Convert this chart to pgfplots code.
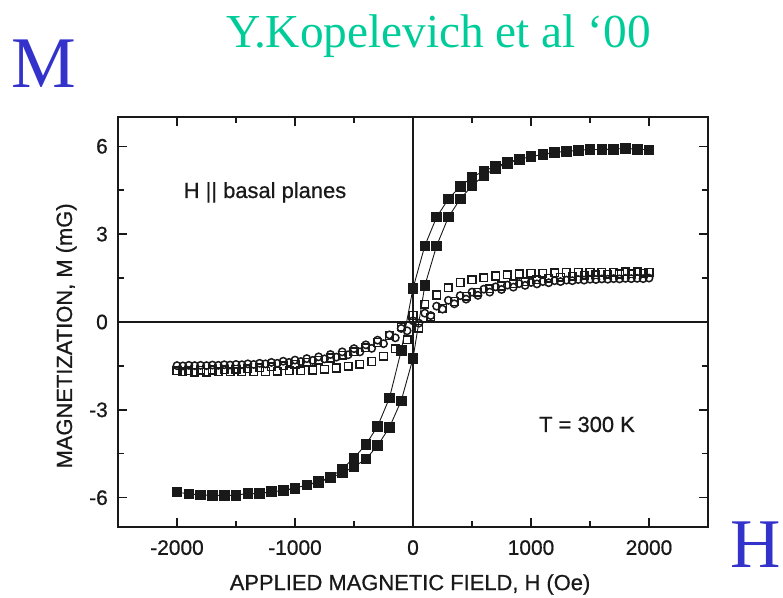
\documentclass[border=0pt]{standalone}
\usepackage{fontspec}
\setmainfont{Liberation Serif}
\newfontfamily\arial[UprightFeatures={FakeBold=0.7}]{Liberation Sans}
\usepackage{pgfplots}
\pgfplotsset{compat=1.18}
\definecolor{bigblue}{RGB}{51,51,204}
\definecolor{teal2}{RGB}{0,204,153}
\definecolor{ink}{RGB}{25,25,25}
\begin{document}
\begin{tikzpicture}[x=1bp,y=1bp]
\path[use as bounding box] (0,0) rectangle (783,598);
\begin{axis}[
  at={(118bp,71bp)}, anchor=south west,
  scale only axis, width=590bp, height=410bp,
  xmin=-2500, xmax=2500, ymin=-7, ymax=7,
  xtick={-2000,-1000,0,1000,2000},
  minor xtick={-1500,-500,500,1500},
  ytick={-6,-3,0,3,6},
  minor ytick={-4.5,-1.5,1.5,4.5},
  tick align=inside,
  major tick length=9bp, minor tick length=6bp,
  every tick/.style={ink, line width=1.4bp},
  axis line style={ink, line width=1.8bp},
  /pgf/number format/assume math mode=true,
  /pgf/number format/1000 sep={},
  xticklabel style={font=\arial\fontsize{21}{21}\selectfont, text=ink, inner sep=0pt, yshift=-13bp},
  yticklabel style={font=\arial\fontsize{21}{21}\selectfont, text=ink, inner sep=0pt, xshift=-10bp},
  xlabel={APPLIED MAGNETIC FIELD, H (Oe)},
  ylabel={MAGNETIZATION, M (mG)},
  every axis x label/.style={at={(axis description cs:0.495,-0.154)}, anchor=base, font=\arial\fontsize{22}{22}\selectfont, text=ink},
  every axis y label/.style={at={(axis description cs:-0.078,0.466)}, rotate=90, anchor=base, font=\arial\fontsize{22}{22}\selectfont, text=ink},
  clip=false,
]
\draw[ink, line width=1.4bp] (axis cs:0,-7) -- (axis cs:0,7);
\draw[ink, line width=1.4bp] (axis cs:-2500,0) -- (axis cs:2500,0);

% open squares (both branches)
\addplot[only marks, mark=square, mark size=3.8bp, mark options={ink, line width=1.5bp}] coordinates {
(2000,1.70) (1900,1.71) (1800,1.71) (1700,1.70) (1600,1.70) (1500,1.70) (1400,1.69) (1300,1.69) (1200,1.68) (1100,1.67) (1000,1.66) (900,1.64) (800,1.61) (700,1.57) (600,1.51) (500,1.44) (400,1.35) (300,1.17) (200,0.92) (100,0.60) (0,0.22) (-100,-0.16) (-200,-0.46) (-300,-0.70) (-400,-0.88) (-500,-1.02) (-600,-1.13) (-700,-1.23) (-800,-1.31) (-900,-1.38) (-1000,-1.44) (-1100,-1.49) (-1200,-1.53) (-1300,-1.56) (-1400,-1.59) (-1500,-1.61) (-1600,-1.63) (-1700,-1.64) (-1800,-1.65) (-1900,-1.66) (-2000,-1.66)
(-1950,-1.70) (-1850,-1.71) (-1750,-1.71) (-1650,-1.70) (-1550,-1.70) (-1450,-1.70) (-1350,-1.69) (-1250,-1.69) (-1150,-1.68) (-1050,-1.67) (-950,-1.66) (-850,-1.64) (-750,-1.61) (-650,-1.57) (-550,-1.51) (-450,-1.44) (-350,-1.35) (-250,-1.17) (-150,-0.92) (-50,-0.60) (50,-0.22) (150,0.16) (250,0.46) (350,0.70) (450,0.88) (550,1.02) (650,1.13) (750,1.23) (850,1.31) (950,1.38) (1050,1.44) (1150,1.49) (1250,1.53) (1350,1.56) (1450,1.59) (1550,1.61) (1650,1.63) (1750,1.64) (1850,1.65) (1950,1.66)
};

% open circles (both branches)
\addplot[only marks, mark=o, mark size=3.7bp, mark options={ink, line width=1.5bp}] coordinates {
(2000,1.50) (1900,1.49) (1800,1.49) (1700,1.48) (1600,1.47) (1500,1.46) (1400,1.45) (1300,1.43) (1200,1.41) (1100,1.38) (1000,1.35) (900,1.31) (800,1.26) (700,1.20) (600,1.12) (500,1.02) (400,0.90) (300,0.74) (200,0.54) (100,0.30) (0,0.04) (-100,-0.22) (-200,-0.44) (-300,-0.62) (-400,-0.78) (-500,-0.91) (-600,-1.02) (-700,-1.11) (-800,-1.19) (-900,-1.25) (-1000,-1.30) (-1100,-1.34) (-1200,-1.38) (-1300,-1.41) (-1400,-1.43) (-1500,-1.45) (-1600,-1.46) (-1700,-1.47) (-1800,-1.48) (-1900,-1.48) (-2000,-1.49)
(-1950,-1.50) (-1850,-1.49) (-1750,-1.49) (-1650,-1.48) (-1550,-1.47) (-1450,-1.46) (-1350,-1.45) (-1250,-1.43) (-1150,-1.41) (-1050,-1.38) (-950,-1.35) (-850,-1.31) (-750,-1.26) (-650,-1.20) (-550,-1.12) (-450,-1.02) (-350,-0.90) (-250,-0.74) (-150,-0.54) (-50,-0.30) (50,-0.04) (150,0.22) (250,0.44) (350,0.62) (450,0.78) (550,0.91) (650,1.02) (750,1.11) (850,1.19) (950,1.25) (1050,1.30) (1150,1.34) (1250,1.38) (1350,1.41) (1450,1.43) (1550,1.45) (1650,1.46) (1750,1.47) (1850,1.48) (1950,1.48)
};

% filled squares: hysteresis loop
\addplot[ink, line width=0.9bp, mark=square*, mark size=4.8bp, mark options={fill=ink, draw=ink}] coordinates {
(2000,5.88) (1900,5.90) (1800,5.93) (1700,5.90) (1600,5.88) (1500,5.90) (1400,5.85) (1300,5.83) (1200,5.79) (1100,5.73) (1000,5.64) (900,5.56) (800,5.45) (700,5.31) (600,5.16) (500,4.94) (400,4.63) (300,4.20) (200,3.58) (100,2.60) (0,1.15) (-100,-0.98) (-200,-2.60) (-300,-3.56) (-400,-4.19) (-500,-4.64) (-600,-5.02) (-700,-5.30) (-800,-5.45) (-900,-5.56) (-1000,-5.68) (-1100,-5.76) (-1200,-5.79) (-1300,-5.87) (-1400,-5.85) (-1500,-5.92) (-1600,-5.92) (-1700,-5.92) (-1800,-5.90) (-1900,-5.87) (-2000,-5.81)
(-1900,-5.87) (-1800,-5.90) (-1700,-5.92) (-1600,-5.92) (-1500,-5.91) (-1400,-5.86) (-1300,-5.85) (-1200,-5.80) (-1100,-5.75) (-1000,-5.67) (-900,-5.57) (-800,-5.47) (-700,-5.33) (-600,-5.15) (-500,-4.95) (-400,-4.68) (-300,-4.22) (-200,-3.60) (-100,-2.69) (0,-1.24) (100,1.24) (200,2.60) (300,3.58) (400,4.20) (500,4.65) (600,5.00) (700,5.25) (800,5.42) (900,5.55) (1000,5.65) (1100,5.72) (1200,5.78) (1300,5.83) (1400,5.86) (1500,5.89) (1600,5.89) (1700,5.91) (1800,5.92) (1900,5.90) (2000,5.88)
};
\end{axis}
% annotations
\node[anchor=base, inner sep=0pt, text=ink, font=\arial\fontsize{22}{22}\selectfont] at (265,400) {H || basal planes};
\node[anchor=base, inner sep=0pt, text=ink, font=\arial\fontsize{22}{22}\selectfont] at (587,166) {T = 300 K};
\node[anchor=base west, inner sep=0pt, text=bigblue, font=\fontsize{73}{73}\selectfont] at (11,510) {M};
\node[anchor=base, inner sep=0pt, text=teal2, font=\fontsize{47.5}{47.5}\selectfont] at (438.5,550) {Y.Kopelevich et al ‘00};
\node[anchor=base east, inner sep=0pt, text=bigblue, font=\fontsize{70}{70}\selectfont] at (781,30) {H};
\end{tikzpicture}
\end{document}
